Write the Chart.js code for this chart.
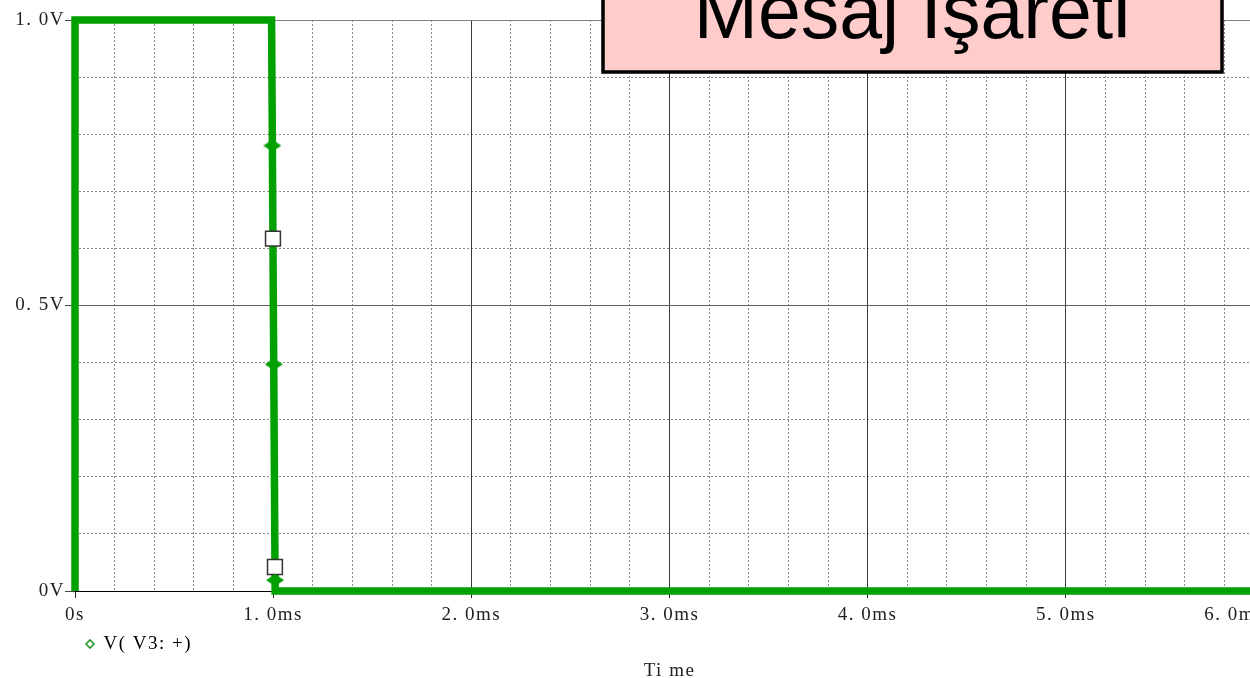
<!DOCTYPE html>
<html>
<head>
<meta charset="utf-8">
<script src="https://cdn.jsdelivr.net/npm/chart.js@4.4.1/dist/chart.umd.min.js"></script>
<style>
  html, body { margin: 0; padding: 0; background: #fff; overflow: hidden; }
  #wrap { position: relative; width: 1264px; height: 678px; }
</style>
</head>
<body>
<div id="wrap"><canvas id="chart"></canvas></div>
<script>
// --------------------------------------------------------------------------
// PSPICE TRACE: V(V3:+)
// --------------------------------------------------------------------------
const traceTimes = [0, 0, 0.992, 1.01, 6.0];      // ms
const traceVolts = [0, 1, 1, 0, 0];                 // V
const diamondTimes = [0.996, 1.003, 1.0095];
const diamondVolts = [0.78, 0.397, 0.019];
const squareTimes = [0.999, 1.009];
const squareVolts = [0.617, 0.042];

const xTickValues = [0, 1, 2, 3, 4, 5, 6];
const xTickLabels = ['0s', '1. 0ms', '2. 0ms', '3. 0ms', '4. 0ms', '5. 0ms', '6. 0ms'];
const yTickValues = [0, 0.5, 1];
const yTickLabels = ['0V', '0. 5V', '1. 0V'];

const seriesName = 'V( V3: +)';
const axisTitle = 'Ti me';
const noteText = 'Mesaj İşareti';

const GREEN = '#00a000';
const SERIF = '"Liberation Serif", "Times New Roman", serif';

const toPoints = (xs, ys) => xs.map((x, i) => ({ x, y: ys[i] }));

// flattened diamond marker, like the PSpice trace symbol
function diamondMarker(w, h, color) {
    const c = document.createElement('canvas');
    c.width = w; c.height = h;
    const g = c.getContext('2d');
    g.fillStyle = color;
    g.beginPath();
    g.moveTo(w / 2, 0); g.lineTo(w, h / 2); g.lineTo(w / 2, h); g.lineTo(0, h / 2);
    g.closePath();
    g.fill();
    return c;
}

// PSpice look: loose letter spacing, last time label pulled inside the plot
const pspiceText = {
    id: 'pspiceText',
    beforeDraw(chart) {
        chart.ctx.letterSpacing = '1.5px';
        const items = chart.scales.x.getLabelItems();
        if (items.length) items[items.length - 1].options.textAlign = 'right';
    }
};

// pink note box in the top right corner
const noteBox = {
    id: 'noteBox',
    afterDraw(chart) {
        const ctx = chart.ctx;
        ctx.save();
        ctx.letterSpacing = '0px';
        ctx.fillStyle = '#ffcccc';
        ctx.fillRect(603, -10, 619, 82);
        ctx.strokeStyle = '#000';
        ctx.lineWidth = 3.5;
        ctx.strokeRect(603, -10, 619, 82);
        ctx.fillStyle = '#000';
        ctx.font = '77px "Liberation Sans", Arial, sans-serif';
        ctx.textAlign = 'center';
        ctx.textBaseline = 'alphabetic';
        ctx.fillText(noteText, 912, 38);
        ctx.restore();
    }
};

new Chart(document.getElementById('chart'), {
    type: 'scatter',
    data: {
        datasets: [
            { label: 'diamonds', data: toPoints(diamondTimes, diamondVolts), order: 0,
              pointStyle: diamondMarker(18, 12, GREEN), pointRadius: 6, clip: false },
            { label: 'squares', data: toPoints(squareTimes, squareVolts), order: 1,
              pointStyle: 'rect', pointRadius: 10.5, backgroundColor: '#fff', borderColor: '#333', borderWidth: 1.5, clip: false },
            { label: seriesName, data: toPoints(traceTimes, traceVolts), order: 2,
              showLine: true, borderColor: GREEN, borderWidth: 7.5, pointRadius: 0, borderJoinStyle: 'miter',
              tension: 0, fill: false, clip: false }
        ]
    },
    options: {
        responsive: true,
        maintainAspectRatio: false,
        animation: false,
        layout: { autoPadding: false, padding: { left: 0, top: 20, right: 0, bottom: 0 } },
        plugins: {
            tooltip: { enabled: false },
            legend: {
                position: 'bottom',
                align: 'start',
                fullSize: false,
                labels: {
                    usePointStyle: true,
                    pointStyleWidth: 8,
                    boxHeight: 5.7,
                    padding: 11,
                    color: '#222',
                    font: { family: SERIF, size: 19 },
                    generateLabels: () => [{
                        text: seriesName, fillStyle: 'rgba(0,0,0,0)', strokeStyle: '#2a9a2a',
                        lineWidth: 1.6, pointStyle: 'rectRot', hidden: false, datasetIndex: 2
                    }]
                }
            },
            title: {
                display: true,
                position: 'bottom',
                fullSize: false,
                text: axisTitle,
                color: '#222',
                padding: 0,
                font: { family: SERIF, size: 19, weight: 'normal', lineHeight: 0.763 }
            }
        },
        scales: {
            xMinor: {
                type: 'linear', position: 'bottom', min: 0, max: 6,
                ticks: { display: false, stepSize: 0.2 },
                grid: { color: '#8c8c8c', lineWidth: 1, drawTicks: false },
                border: { display: false, dash: [2, 2] },
                afterFit: (s) => { s.height = 0; s.paddingLeft = 0; s.paddingRight = 0; }
            },
            yMinor: {
                type: 'linear', position: 'left', min: 0, max: 1,
                ticks: { display: false, stepSize: 0.1 },
                grid: { color: '#8c8c8c', lineWidth: 1, drawTicks: false },
                border: { display: false, dash: [2, 2] },
                afterFit: (s) => { s.width = 0; }
            },
            x: {
                type: 'linear', position: 'bottom', min: 0, max: 6,
                afterBuildTicks: (s) => { s.ticks = xTickValues.map(v => ({ value: v })); },
                afterFit: (s) => { s.height = 32.5; s.paddingLeft = 0; s.paddingRight = 0; },
                ticks: {
                    padding: 6,
                    color: '#222',
                    maxRotation: 0,
                    autoSkip: false,
                    font: { family: SERIF, size: 19 },
                    callback: (v, i) => xTickLabels[i]
                },
                grid: {
                    color: (c) => (c.tick && c.tick.value === 0) ? 'rgba(0,0,0,0)' : '#3a3a3a',
                    lineWidth: 1,
                    tickLength: 7,
                    tickColor: '#222'
                },
                border: { display: true, color: '#000', width: 1 }
            },
            y: {
                type: 'linear', position: 'left', min: 0, max: 1,
                afterBuildTicks: (s) => { s.ticks = yTickValues.map(v => ({ value: v })); },
                afterFit: (s) => { s.width = 75; },
                ticks: {
                    padding: 0,
                    color: '#222',
                    font: { family: SERIF, size: 19 },
                    callback: (v, i) => yTickLabels[i]
                },
                grid: {
                    color: (c) => {
                        if (!c.tick) return '#777';
                        if (c.tick.value === 0) return 'rgba(0,0,0,0)';
                        return c.tick.value === 1 ? '#808080' : '#606060';
                    },
                    lineWidth: 1,
                    tickLength: 10,
                    tickColor: '#444'
                },
                border: { display: true, color: '#000', width: 1 }
            }
        }
    },
    plugins: [pspiceText, noteBox]
});
</script>
</body>
</html>
